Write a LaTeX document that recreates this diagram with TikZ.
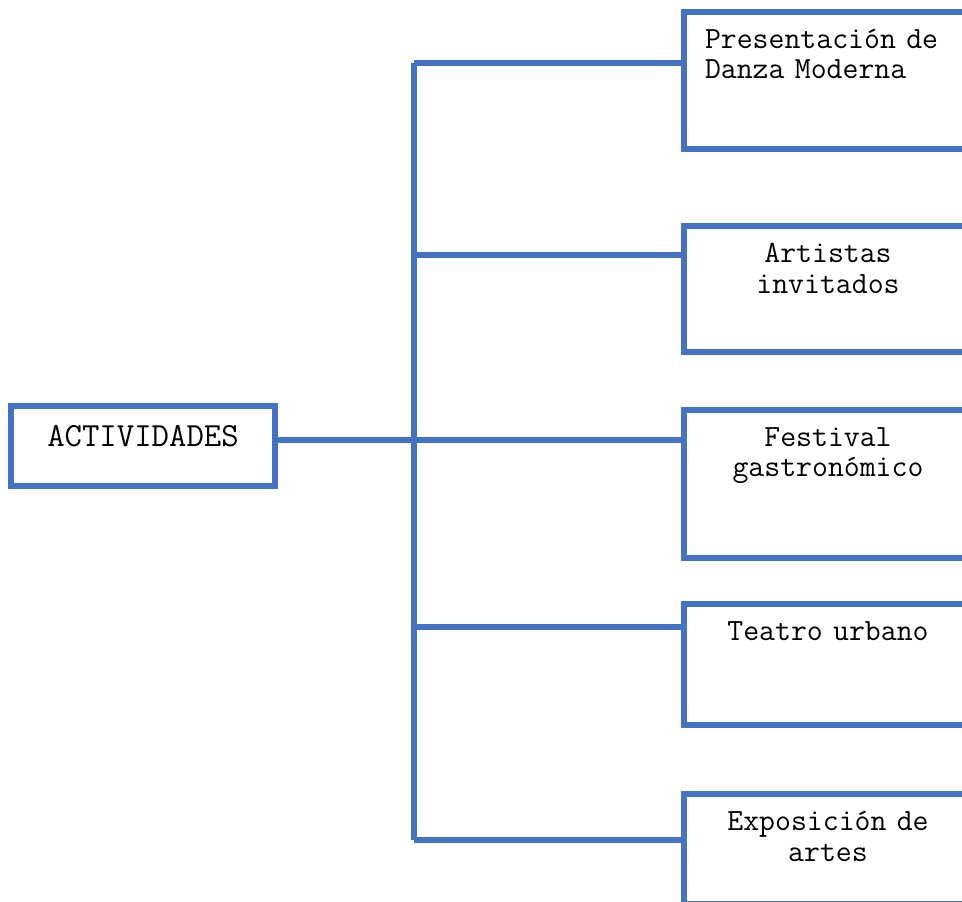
\documentclass[tikz,border=0pt]{standalone}
\usepackage{fontspec}
\definecolor{azul}{RGB}{68,114,196}
\tikzstyle{root} = [rectangle, draw=azul, line width=6pt,
    minimum width=264pt, minimum height=80pt, text height=10pt, text depth=10pt,
    font=\ttfamily\fontsize{33.8}{36}\selectfont]
\tikzstyle{leaf} = [rectangle, draw=azul, line width=6pt, anchor=north west,
    minimum width=288pt, inner ysep=0pt, text height=36.5pt, text width=270pt,
    align=center, font=\ttfamily\fontsize{30.9}{30.5}\selectfont]
\tikzstyle{line} = [draw=azul, line width=6pt]

\begin{document}
\begin{tikzpicture}[x=1pt, y=-1pt]
	    \useasboundingbox (0,0) rectangle (962,902);
	    \clip (0,0) rectangle (962,902);
	    % Place nodes
	    \node [root] (act) at (143,446) {ACTIVIDADES};
	    \node [leaf, align=left, text width=246pt, text depth=101pt] (danza) at (681,8.5) {Presentación de\\Danza Moderna};
	    \node [leaf, text depth=89.5pt] (artistas) at (681,223) {Artistas\\invitados};
	    \node [leaf, text depth=111.5pt] (festival) at (681,406.5) {Festival\\gastronómico};
	    \node [leaf, text depth=84.5pt] (teatro) at (681,601) {Teatro urbano};
	    \node [leaf, text depth=73.5pt] (expo) at (681,791) {Exposición de\\artes};
	    % Trunk junctions
	    \coordinate (j1) at (413.5,62.5);
	    \coordinate (j2) at (413.5,254.5);
	    \coordinate (j3) at (413.5,440);
	    \coordinate (j4) at (413.5,627);
	    \coordinate (j5) at (413.5,840);
	    % Draw edges
	    \path [line] (j1) -- (j5);
	    \path [line] (j3 -| act.east) -- (j3);
	    \path [line] (j1) -- (j1 -| danza.west);
	    \path [line] (j2) -- (j2 -| artistas.west);
	    \path [line] (j3) -- (j3 -| festival.west);
	    \path [line] (j4) -- (j4 -| teatro.west);
	    \path [line] (j5) -- (j5 -| expo.west);
\end{tikzpicture}
\end{document}
